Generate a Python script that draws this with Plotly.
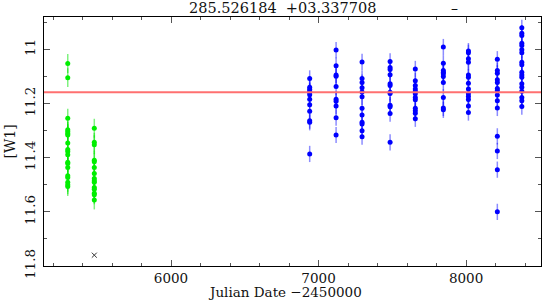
import plotly.graph_objects as go

# ---- data ----
green_jd = [5300]*2 + [5300]*17 + [5480]*15
green_mag = [11.052, 11.104,
             11.254, 11.297, 11.303, 11.310, 11.316, 11.346, 11.370, 11.377, 11.389,
             11.417, 11.421, 11.436, 11.467, 11.473, 11.491, 11.500, 11.506,
             11.291, 11.343, 11.352, 11.409, 11.415, 11.436, 11.458, 11.477, 11.485,
             11.491, 11.510, 11.516, 11.531, 11.537, 11.556]
green_err = [0.035]*len(green_mag)

blue_epochs = [6940, 7119, 7295, 7485, 7656, 7846, 8016, 8212, 8378]
blue_mags = [
    [11.107, 11.140, 11.147, 11.154, 11.159, 11.167, 11.184, 11.204, 11.228, 11.263, 11.269, 11.386],
    [11.002, 11.060, 11.094, 11.099, 11.137, 11.184, 11.191, 11.209, 11.252, 11.316],
    [11.046, 11.107, 11.122, 11.141, 11.157, 11.175, 11.217, 11.242, 11.269, 11.275, 11.300, 11.322],
    [11.044, 11.067, 11.074, 11.093, 11.127, 11.133, 11.158, 11.163, 11.206, 11.212, 11.237, 11.343],
    [11.072, 11.116, 11.133, 11.146, 11.154, 11.164, 11.177, 11.186, 11.217, 11.226, 11.236, 11.256],
    [10.991, 11.051, 11.078, 11.084, 11.090, 11.100, 11.122, 11.177, 11.216, 11.223],
    [11.006, 11.012, 11.034, 11.047, 11.094, 11.103, 11.125, 11.146, 11.164, 11.174, 11.185, 11.209, 11.233],
    [11.036, 11.078, 11.088, 11.112, 11.122, 11.144, 11.152, 11.168, 11.189, 11.216, 11.321, 11.375, 11.444, 11.600],
    [10.920, 10.940, 10.948, 10.977, 10.985, 11.001, 11.012, 11.047, 11.056, 11.084, 11.094, 11.103,
     11.127, 11.140, 11.154, 11.177, 11.189, 11.211],
]
blue_err_value = 0.03

limit_jd = [5480]
limit_mag = [11.76]

mean_mag = 11.158
title_text = "285.526184  +03.337708"
x_title = "Julian Date \u22122450000"
y_title = "[W1]"
x_range = [5139, 8508]
y_range = [11.8, 10.880]

blue_jd = []
blue_mag = []
for e, ms in zip(blue_epochs, blue_mags):
    blue_jd += [e]*len(ms)
    blue_mag += ms
blue_err = [blue_err_value]*len(blue_mag)

FONT = "DejaVu Serif"

fig = go.Figure()
fig.add_trace(go.Scatter(
    x=green_jd, y=green_mag, mode="markers",
    marker=dict(color="#00ee00", size=5),
    error_y=dict(type="data", array=green_err, color="rgba(0,230,0,0.5)", thickness=1.5, width=0),
    showlegend=False))
fig.add_trace(go.Scatter(
    x=blue_jd, y=blue_mag, mode="markers",
    marker=dict(color="#0000ff", size=5),
    error_y=dict(type="data", array=blue_err, color="rgba(0,0,255,0.45)", thickness=1.5, width=0),
    showlegend=False))
fig.add_trace(go.Scatter(
    x=limit_jd, y=limit_mag, mode="markers",
    marker=dict(symbol="x-thin", size=5, line=dict(color="#333333", width=1)),
    showlegend=False))
fig.add_hline(y=mean_mag, line=dict(color="#ff7070", width=2))

axis_common = dict(showgrid=False, zeroline=False, showline=True, linecolor="black",
                   linewidth=1, mirror="ticks", ticks="inside", ticklen=6,
                   tickcolor="#555555", tickfont=dict(family=FONT, size=13.5, color="#111111"))
fig.update_xaxes(range=x_range, dtick=1000, tick0=0, ticklabelstandoff=0,
                 minor=dict(dtick=200, ticks="inside", ticklen=3, tickcolor="#555555"),
                 **axis_common)
fig.update_yaxes(range=y_range, dtick=0.2, tick0=0, tickangle=-90, tickformat="~g",
                 ticklabelstandoff=3,
                 minor=dict(dtick=0.1, ticks="inside", ticklen=3, tickcolor="#555555"),
                 **axis_common)

fig.update_layout(
    width=546, height=300,
    margin=dict(l=44, r=5, t=17, b=34),
    plot_bgcolor="white", paper_bgcolor="white",
    annotations=[
        dict(text=title_text, x=0.479, xref="paper", y=1, yref="paper", yanchor="bottom",
             yshift=-1, showarrow=False, font=dict(family=FONT, size=14.5, color="#111111")),
        dict(text="\u2013", x=0.837, xref="paper", y=1, yref="paper", yanchor="bottom",
             yshift=-1, showarrow=False, font=dict(family=FONT, size=14, color="#111111")),
        dict(text=x_title, x=0.485, xref="paper", y=0, yref="paper", yanchor="top",
             yshift=-16, showarrow=False, font=dict(family=FONT, size=13.5, color="#111111")),
        dict(text=y_title, x=0, xref="paper", xanchor="right", xshift=-25, y=0.5,
             yref="paper", textangle=-90, showarrow=False,
             font=dict(family=FONT, size=14, color="#111111")),
    ],
)
fig.write_html("out.html", config={"displayModeBar": False},
               post_script="document.body.style.margin='0';")
